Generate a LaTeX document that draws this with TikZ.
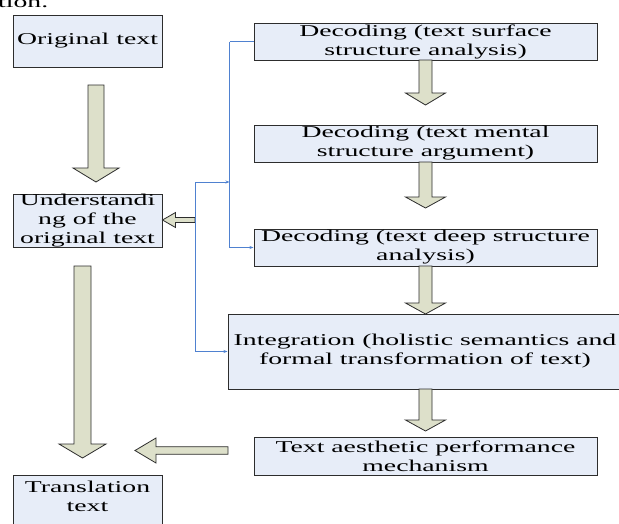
\documentclass[tikz,border=0pt]{standalone}
\usepackage{fontspec}
\setmainfont{Liberation Serif}[FakeStretch=1.68]
\usetikzlibrary{arrows.meta}
\definecolor{boxfill}{RGB}{231,237,248}
\definecolor{arrfill}{RGB}{221,224,202}
\definecolor{connblue}{RGB}{79,129,208}
\definecolor{edge}{RGB}{45,45,45}
\tikzset{
  box/.style={draw=edge, line width=1pt, fill=boxfill, inner sep=0pt, align=center,
    font=\fontsize{16.5}{19}\selectfont},
  txt/.style={inner sep=0pt, align=center, font=\fontsize{16.5}{19}\selectfont},
  blockarrow/.style={draw=edge, line width=0.8pt, fill=arrfill, line join=miter},
  conn/.style={draw=connblue, line width=0.9pt, arrows={-Stealth[length=4pt,width=3pt]}},
}
\newcommand\dnarrow[6]{%
  \draw[blockarrow] (#1-#5,#2) -- (#1+#5,#2) -- (#1+#5,#3) -- (#1+#6,#3) -- (#1,#4)
    -- (#1-#6,#3) -- (#1-#5,#3) -- cycle;}
\newcommand\lfarrow[6]{%
  \draw[blockarrow] (#2,#1-#5) -- (#2,#1+#5) -- (#3,#1+#5) -- (#3,#1+#6) -- (#4,#1)
    -- (#3,#1-#6) -- (#3,#1-#5) -- cycle;}
\begin{document}
\begin{tikzpicture}[x=1pt,y=-1pt]
\useasboundingbox (0,0) rectangle (619,523);
\clip (0,0) rectangle (619,523);
\fill[white] (0,0) rectangle (619,523);

% cut-off text at top
\node[txt, anchor=base west] (cut) at (-2,7.5) {tion.};

% left column
\node[box, minimum width=149pt, minimum height=52pt] (orig) at (87.5,41) {Original text};
\node[box, minimum width=149pt, minimum height=53pt] (und) at (87.5,220.5)
  {Understandi\\ng of the\\original text};
\node[box, minimum width=149pt, minimum height=56pt] (trans) at (87.5,503) {};
\node[txt] (transtxt) at (87.5,496) {Translation\\text};

% right column
\node[box, minimum width=343pt, minimum height=37pt] (d1) at (425.5,41.5)
  {Decoding (text surface\\structure analysis)};
\node[box, minimum width=343pt, minimum height=37pt] (d2) at (425.5,143.5)
  {Decoding (text mental\\structure argument)};
\node[box, minimum width=343pt, minimum height=37pt] (d3) at (425.5,247.5)
  {Decoding (text deep structure\\analysis)};
\node[box, minimum width=394pt, minimum height=75pt] (int) at (425,351.5)
  {Integration (holistic semantics and\\formal transformation of text)};
\node[box, minimum width=343pt, minimum height=38pt] (aes) at (425.5,456)
  {Text aesthetic performance\\mechanism};

% block arrows
\dnarrow{96}{85}{168}{182}{8}{23}
\dnarrow{82.5}{266}{444}{458}{8.5}{23.5}
\dnarrow{425.5}{60}{93}{105}{6.5}{20}
\dnarrow{425.5}{162}{197}{208}{6.5}{20}
\dnarrow{425.5}{266}{303}{314}{6.5}{20}
\dnarrow{425.5}{389}{420}{431}{6.5}{20}
\lfarrow{220}{195}{175.5}{162.5}{2.5}{7.5}
\lfarrow{450.5}{228}{156}{135}{3.8}{12.5}

% blue connectors
\coordinate (j1) at (229.5,182);
\coordinate (k1) at (195,182);
\coordinate (b1) at (229.5,41.5);
\draw[conn, arrows={-}] (d1.west) -- (b1);
\draw[conn] (b1) |- (d3.west);
\draw[conn, arrows={Stealth[length=4pt,width=3pt]-Stealth[length=4pt,width=3pt]}]
  (j1) -- (k1) |- (int.west);
\end{tikzpicture}
\end{document}
